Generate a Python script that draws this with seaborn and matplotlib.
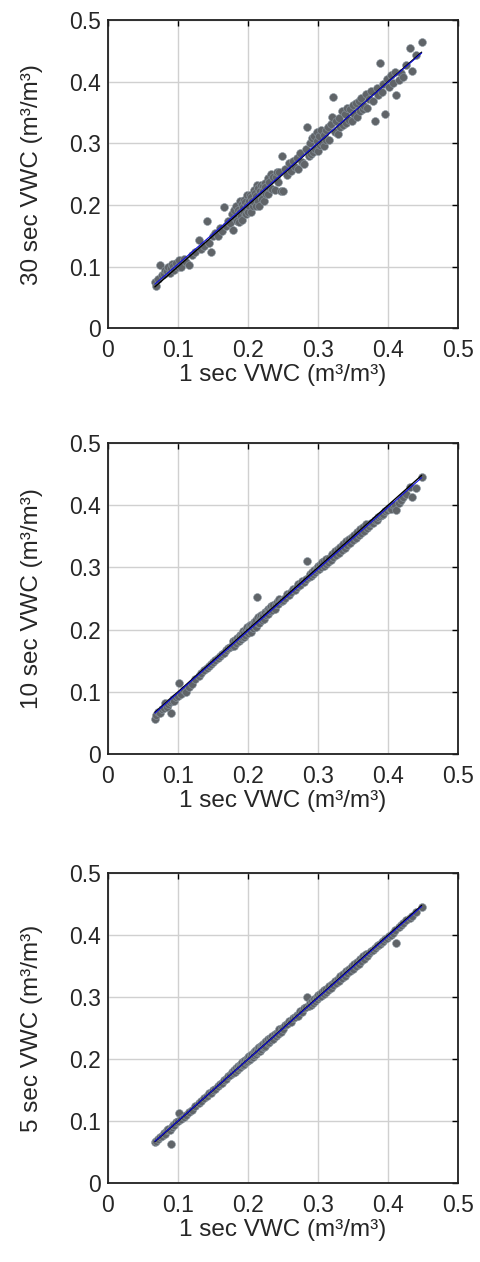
import numpy as np
import pandas as pd
import seaborn as sns
import matplotlib
matplotlib.use("Agg")
import matplotlib.pyplot as plt

# 1 sec readings (shared x for all panels)
x_1s = [0.067, 0.069, 0.072, 0.074, 0.077, 0.080, 0.082, 0.084, 0.086, 0.088, 0.090, 0.091, 0.093, 0.095, 0.097, 0.100, 0.102, 0.105, 0.108, 0.111, 0.116, 0.120,
        0.125, 0.130, 0.133, 0.137, 0.141, 0.144, 0.147, 0.150, 0.153, 0.157, 0.160, 0.163, 0.166, 0.169, 0.172, 0.175,
        0.177, 0.179, 0.180, 0.182, 0.183, 0.184, 0.186, 0.187, 0.188, 0.189, 0.190, 0.191, 0.192, 0.193, 0.194, 0.195, 0.196, 0.197, 0.198, 0.199,
        0.200, 0.201, 0.202, 0.203, 0.204, 0.205, 0.206, 0.207, 0.208, 0.209, 0.210, 0.211, 0.212, 0.213, 0.214, 0.215, 0.216, 0.217, 0.218, 0.219,
        0.220, 0.221, 0.222, 0.223, 0.224, 0.225, 0.226, 0.228, 0.229, 0.230, 0.232, 0.233, 0.235, 0.236, 0.238, 0.240, 0.241, 0.243, 0.245, 0.247,
        0.249, 0.250, 0.253, 0.256, 0.259, 0.262, 0.264, 0.267, 0.270, 0.272, 0.275, 0.277, 0.280, 0.283,
        0.285, 0.287, 0.289, 0.290, 0.292, 0.293, 0.295, 0.296, 0.298, 0.299, 0.300, 0.302, 0.303, 0.305, 0.306, 0.308, 0.309, 0.311, 0.312, 0.314,
        0.316, 0.318, 0.320, 0.322, 0.324, 0.326, 0.328, 0.330, 0.332, 0.334, 0.336, 0.338, 0.340, 0.342, 0.344, 0.346, 0.348, 0.350, 0.352, 0.354,
        0.356, 0.358, 0.360, 0.362, 0.364, 0.366, 0.368, 0.370,
        0.373, 0.376, 0.378, 0.381, 0.384, 0.386, 0.388, 0.391, 0.393, 0.396, 0.399, 0.401, 0.404, 0.407, 0.410, 0.412, 0.415, 0.418, 0.421, 0.426,
        0.431, 0.434, 0.440, 0.448]

y_30s = [0.075, 0.068, 0.080, 0.103, 0.086, 0.088, 0.094, 0.092, 0.099, 0.090, 0.097, 0.104, 0.101, 0.094, 0.106, 0.100, 0.111, 0.099, 0.113, 0.107, 0.102, 0.118,
         0.124, 0.143, 0.128, 0.133, 0.174, 0.139, 0.124, 0.150, 0.155, 0.149, 0.163, 0.158, 0.196, 0.166, 0.174, 0.170,
         0.185, 0.159, 0.192, 0.178, 0.198, 0.174, 0.192, 0.173, 0.207, 0.189, 0.182, 0.202, 0.175, 0.197, 0.208, 0.189, 0.205, 0.185, 0.200, 0.216,
         0.189, 0.206, 0.199, 0.216, 0.189, 0.213, 0.207, 0.198, 0.224, 0.204, 0.220, 0.198, 0.215, 0.233, 0.207, 0.227, 0.198, 0.223, 0.216, 0.233,
         0.210, 0.230, 0.222, 0.207, 0.235, 0.229, 0.218, 0.243, 0.217, 0.237, 0.228, 0.251, 0.226, 0.246, 0.224, 0.245, 0.253, 0.237, 0.253, 0.223,
         0.280, 0.223, 0.259, 0.248, 0.268, 0.255, 0.271, 0.262, 0.276, 0.259, 0.284, 0.270, 0.266, 0.291,
         0.326, 0.279, 0.301, 0.283, 0.309, 0.286, 0.312, 0.291, 0.318, 0.304, 0.288, 0.312, 0.297, 0.321, 0.300, 0.314, 0.296, 0.322, 0.306, 0.327,
         0.305, 0.331, 0.342, 0.376, 0.318, 0.337, 0.315, 0.341, 0.326, 0.352, 0.330, 0.347, 0.333, 0.358, 0.338, 0.355, 0.336, 0.362, 0.347, 0.365,
         0.343, 0.369, 0.352, 0.374, 0.356, 0.361, 0.380, 0.357,
         0.372, 0.385, 0.369, 0.337, 0.390, 0.378, 0.431, 0.384, 0.396, 0.348, 0.405, 0.392, 0.411, 0.398, 0.416, 0.379, 0.403, 0.414, 0.407, 0.427,
         0.455, 0.418, 0.443, 0.464]

y_10s = [0.057, 0.062, 0.068, 0.066, 0.072, 0.074, 0.082, 0.076, 0.080, 0.083, 0.066, 0.086, 0.088, 0.085, 0.092, 0.094, 0.115, 0.097, 0.103, 0.100, 0.108, 0.113,
         0.121, 0.126, 0.131, 0.135, 0.138, 0.142, 0.144, 0.148, 0.151, 0.154, 0.158, 0.161, 0.163, 0.167, 0.170, 0.172,
         0.173, 0.181, 0.173, 0.183, 0.178, 0.187, 0.184, 0.181, 0.192, 0.188, 0.185, 0.193, 0.189, 0.198, 0.188, 0.195, 0.192, 0.200, 0.196, 0.205,
         0.195, 0.202, 0.199, 0.207, 0.197, 0.207, 0.205, 0.203, 0.213, 0.207, 0.213, 0.205, 0.216, 0.253, 0.211, 0.221, 0.211, 0.219, 0.217, 0.224,
         0.216, 0.224, 0.222, 0.217, 0.228, 0.226, 0.223, 0.234, 0.225, 0.232, 0.230, 0.238, 0.232, 0.240, 0.233, 0.241, 0.244, 0.241, 0.249, 0.246,
         0.246, 0.248, 0.251, 0.257, 0.256, 0.261, 0.266, 0.264, 0.269, 0.273, 0.272, 0.278, 0.277, 0.281,
         0.311, 0.285, 0.290, 0.286, 0.293, 0.289, 0.296, 0.292, 0.299, 0.296, 0.302, 0.298, 0.304, 0.301, 0.308, 0.303, 0.311, 0.306, 0.313, 0.309,
         0.316, 0.312, 0.321, 0.317, 0.327, 0.320, 0.329, 0.324, 0.333, 0.328, 0.338, 0.331, 0.342, 0.336, 0.346, 0.340, 0.349, 0.344, 0.353, 0.347,
         0.357, 0.352, 0.362, 0.356, 0.365, 0.359, 0.370, 0.363,
         0.366, 0.371, 0.372, 0.376, 0.377, 0.381, 0.383, 0.385, 0.386, 0.391, 0.392, 0.396, 0.394, 0.400, 0.401, 0.393, 0.404, 0.409, 0.413, 0.418,
         0.430, 0.413, 0.427, 0.446]

y_5s = [0.067, 0.068, 0.071, 0.074, 0.076, 0.081, 0.080, 0.085, 0.087, 0.086, 0.063, 0.091, 0.093, 0.094, 0.098, 0.100, 0.113, 0.104, 0.107, 0.110, 0.114, 0.118,
        0.124, 0.130, 0.132, 0.137, 0.140, 0.145, 0.146, 0.150, 0.152, 0.157, 0.160, 0.162, 0.167, 0.168, 0.173, 0.174,
        0.180, 0.177, 0.183, 0.180, 0.186, 0.182, 0.189, 0.185, 0.191, 0.187, 0.193, 0.190, 0.195, 0.191, 0.197, 0.193, 0.199, 0.195, 0.201, 0.197,
        0.203, 0.199, 0.205, 0.201, 0.207, 0.203, 0.209, 0.204, 0.211, 0.207, 0.213, 0.209, 0.215, 0.211, 0.218, 0.213, 0.219, 0.214, 0.221, 0.216,
        0.223, 0.219, 0.225, 0.220, 0.227, 0.222, 0.229, 0.226, 0.232, 0.228, 0.235, 0.231, 0.238, 0.233, 0.241, 0.237, 0.243, 0.240, 0.248, 0.244,
        0.251, 0.249, 0.255, 0.257, 0.262, 0.260, 0.266, 0.268, 0.271, 0.270, 0.277, 0.276, 0.283, 0.284,
        0.300, 0.286, 0.290, 0.288, 0.294, 0.291, 0.297, 0.294, 0.300, 0.297, 0.303, 0.300, 0.305, 0.302, 0.308, 0.305, 0.311, 0.308, 0.314, 0.311,
        0.318, 0.315, 0.322, 0.319, 0.327, 0.323, 0.330, 0.327, 0.335, 0.331, 0.338, 0.334, 0.342, 0.339, 0.346, 0.342, 0.350, 0.346, 0.354, 0.350,
        0.357, 0.354, 0.362, 0.358, 0.366, 0.362, 0.370, 0.366,
        0.371, 0.374, 0.376, 0.379, 0.382, 0.384, 0.386, 0.389, 0.391, 0.394, 0.396, 0.399, 0.401, 0.404, 0.408, 0.388, 0.413, 0.416, 0.419, 0.424,
        0.428, 0.431, 0.437, 0.446]

panel_labels = ["30 sec VWC (m³/m³)", "10 sec VWC (m³/m³)", "5 sec VWC (m³/m³)"]
x_label = "1 sec VWC (m³/m³)"
ticks = [0, 0.1, 0.2, 0.3, 0.4, 0.5]
tick_labels = ["0", "0.1", "0.2", "0.3", "0.4", "0.5"]

df = pd.DataFrame({"x": x_1s, "30s": y_30s, "10s": y_10s, "5s": y_5s})

sns.set_style("white")
plt.rcParams["font.family"] = ["Liberation Sans", "DejaVu Sans"]

fig = plt.figure(figsize=(4.81, 12.62), dpi=100)
# axes boxes in figure fraction: left, bottom, width, height
boxes = [[0.2245, 0.740, 0.7277, 0.244],
         [0.2245, 0.4025, 0.7277, 0.2464],
         [0.2245, 0.0625, 0.7277, 0.2455]]

for col, lab, box in zip(["30s", "10s", "5s"], panel_labels, boxes):
    ax = fig.add_axes(box)
    ax.grid(True, color="#d0d0d0", lw=1.0)
    ax.set_axisbelow(True)
    sns.scatterplot(data=df, x="x", y=col, ax=ax, color="#606468", s=32,
                    edgecolor="#8c98a2", linewidth=0.4, zorder=2)
    xmin, xmax = df["x"].min(), df["x"].max()
    ax.plot([xmin, xmax], [xmin, xmax], color="black", lw=1.0, zorder=3)
    sns.regplot(data=df, x="x", y=col, ax=ax, scatter=False, ci=None,
                color="#1010e0", line_kws={"lw": 0.8, "zorder": 4})
    ax.set_xlim(0, 0.5)
    ax.set_ylim(0, 0.5)
    ax.set_xticks(ticks)
    ax.set_yticks(ticks)
    ax.set_xticklabels(tick_labels)
    ax.set_yticklabels(tick_labels)
    ax.tick_params(direction="in", top=True, right=True, length=4, width=1,
                   labelsize=16.5, color="black")
    ax.tick_params(axis="x", pad=8)
    ax.tick_params(axis="y", pad=5)
    for sp in ax.spines.values():
        sp.set_color("#202020")
        sp.set_linewidth(1.3)
    ax.set_xlabel(x_label, fontsize=17.5, labelpad=1)
    ax.set_ylabel(lab, fontsize=17.5, labelpad=19)

fig.savefig("out.png", dpi=100)
